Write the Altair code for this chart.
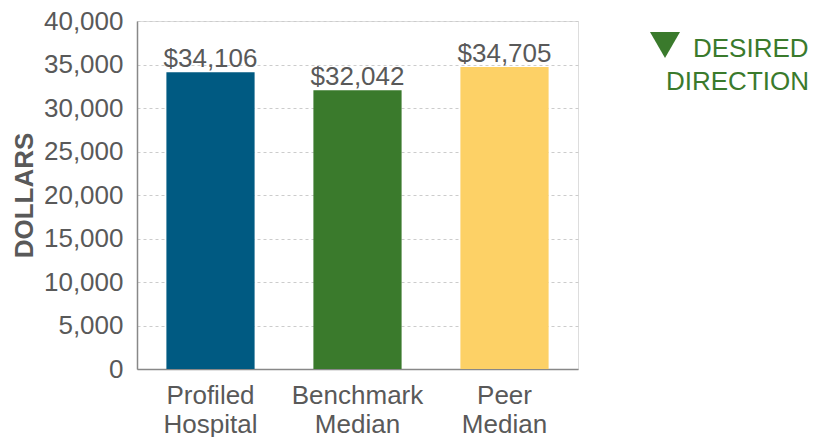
import altair as alt
import pandas as pd

categories = ["Profiled Hospital", "Benchmark Median", "Peer Median"]
values = [34106, 32042, 34705]
labels = ["$34,106", "$32,042", "$34,705"]
colors = ["#005a82", "#3a7a2c", "#fdd166"]

df = pd.DataFrame({"cat": categories, "val": values, "lab": labels})

FONT = "Liberation Sans"
GREY = "#595959"
GREEN = "#3a7a2c"
FS = 26

x = alt.X("cat:N", sort=categories, title=None,
          scale=alt.Scale(paddingInner=0.4, paddingOuter=0.2),
          axis=alt.Axis(labelAngle=0, labelExpr="split(datum.label, ' ')",
                        labelFontSize=FS, labelColor=GREY, labelFont=FONT,
                        labelLineHeight=29, labelPadding=13, ticks=False,
                        domainColor="#888888", domainWidth=1.5, grid=False))
y = alt.Y("val:Q", title="DOLLARS",
          scale=alt.Scale(domain=[0, 40000]),
          axis=alt.Axis(values=list(range(0, 40001, 5000)), format=",d",
                        labelFontSize=FS, labelColor=GREY, labelFont=FONT,
                        labelPadding=14, ticks=False,
                        titleFontSize=FS, titleFont=FONT, titleFontWeight="bold",
                        titleColor=GREY, titlePadding=6,
                        domainColor="#888888", domainWidth=1.5,
                        gridColor="#cccccc", gridDash=[3, 3], gridWidth=1))

base = alt.Chart(df)
bars = base.mark_bar().encode(
    x=x, y=y,
    color=alt.Color("cat:N", scale=alt.Scale(domain=categories, range=colors), legend=None),
)
text = base.mark_text(baseline="alphabetic", dy=-5, fontSize=FS, font=FONT, color=GREY).encode(
    x=alt.X("cat:N", sort=categories), y=alt.Y("val:Q"), text="lab:N"
)

one = pd.DataFrame({"k": [0]})
t1 = alt.Chart(one).mark_text(align="left", baseline="middle", fontSize=FS, font=FONT,
                              color=GREEN, text="DESIRED").encode(x=alt.value(556), y=alt.value(28))
t2 = alt.Chart(one).mark_text(align="left", baseline="middle", fontSize=FS, font=FONT,
                              color=GREEN, text="DIRECTION").encode(x=alt.value(529), y=alt.value(61))
tri = alt.Chart(one).mark_point(
    shape="triangle-down", filled=True, color=GREEN, opacity=1, size=900
).encode(x=alt.value(528), y=alt.value(24))

chart = alt.layer(bars, text, t1, t2, tri).properties(
    width=441, height=348,
    autosize=alt.AutoSizeParams(type="none"),
    padding={"left": 129, "top": 13, "right": 231, "bottom": 70},
).configure_view(stroke=None).configure(font=FONT)

chart.save("out.html", embed_options={"renderer": "svg", "actions": False})
